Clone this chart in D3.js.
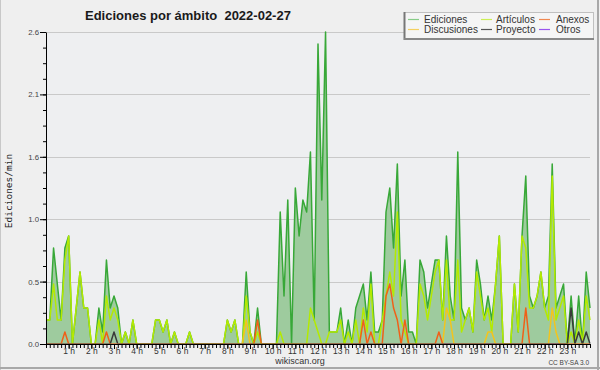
<!DOCTYPE html>
<html><head><meta charset="utf-8">
<script src="https://cdn.jsdelivr.net/npm/d3@7"></script>
<style>body{margin:0;background:#efefef}svg{display:block}</style>
</head><body>
<svg id="chart" width="600" height="370"></svg>
<script>
// 10-minute slots, 0:00 .. 24:00 (145 points), edits per minute
const ediciones = [0.2,0.2,0.8,0.5,0.2,0.8,0.9,0,0.3,0.6,0.3,0.3,0,0,0.3,0.1,0.7,0.3,0.4,0.3,0,0.1,0,0.2,0,0,0,0,0,0.2,0.2,0.1,0.2,0,0.1,0,0,0,0.1,0,0,0,0,0,0,0,0,0,0.2,0.1,0.2,0,0,0.6,0.1,0,0.3,0,0,0,0,0,1.1,0.4,1.2,0,1.3,0.9,1.2,1.1,1.6,0.2,2.5,1.2,2.6,0.1,0.1,0.1,0.3,0,0.2,0,0.3,0.4,0.5,0.2,0.6,0.1,0.1,0.2,1.1,1.3,0.8,1.5,0.4,0.7,0.1,0.1,0,0.7,0.6,0.3,0.5,0.7,0.7,0.2,0.9,0.4,0.2,1.6,0.3,0.2,0.3,0.1,0.7,0.5,0.2,0.4,0.2,0.5,0.9,0,0,0,0.5,0.1,0.9,1.4,0.4,0.3,0.4,0.6,0.3,0.4,1.5,0.3,0.4,0.5,0,0.4,0,0.4,0,0.6,0.3];
const articulos = [0.2,0.2,0.5,0.2,0.2,0.7,0.9,0,0.3,0.6,0.3,0.3,0,0,0.2,0,0.4,0.2,0.3,0.2,0,0.1,0,0.2,0,0,0,0,0,0.2,0.2,0.1,0.2,0,0.1,0,0,0,0.1,0,0,0,0,0,0,0,0,0,0.2,0.1,0.2,0,0,0.4,0.1,0,0.1,0,0,0,0,0,0.1,0,0,0,0,0,0,0,0.3,0.2,0.1,0,0,0.1,0.1,0.1,0.2,0,0.1,0,0.2,0,0.3,0.1,0.5,0,0,0.2,0.4,0.6,0.4,1.1,0.2,0.1,0,0,0,0.5,0.4,0.2,0.4,0.6,0.7,0.2,0.7,0.2,0.2,0.7,0.1,0.2,0.3,0.1,0.6,0.4,0.2,0.3,0.1,0.5,0.9,0,0,0,0.5,0.1,0.9,0.8,0.3,0.3,0.4,0.6,0.3,0.2,1.4,0.2,0.3,0.4,0,0.1,0,0.2,0,0.4,0.2];
const anexos = [0,0,0,0,0,0.1,0,0,0,0,0,0,0,0,0,0,0.1,0,0,0,0,0,0,0,0,0,0,0,0,0,0,0,0,0,0,0,0,0,0,0,0,0,0,0,0,0,0,0,0,0,0,0,0,0,0,0,0.2,0,0,0,0,0,0,0,0,0,0,0,0,0,0,0,0,0,0,0,0,0,0,0,0,0,0,0,0.2,0,0.1,0,0,0,0.4,0.5,0.3,0.2,0,0.2,0,0,0,0,0,0,0,0,0.1,0,0,0,0,0,0,0,0,0,0,0,0,0,0,0,0,0,0,0,0,0,0,0.3,0,0,0,0,0,0,0,0,0,0,0,0,0,0,0,0,0];
const discusiones = [0,0,0,0,0,0,0,0,0,0,0,0,0,0,0,0,0,0,0,0,0,0,0,0,0,0,0,0,0,0,0,0,0,0,0,0,0,0,0,0,0,0,0,0,0,0,0,0,0,0,0,0,0,0.2,0,0,0,0,0,0,0,0,0,0,0,0,0,0,0,0,0,0,0,0,0,0,0,0,0,0,0,0,0,0,0,0,0,0,0,0,0,0,0,0,0,0,0,0,0,0,0,0,0,0,0,0,0.3,0.2,0,0,0,0,0,0,0,0,0,0.1,0.1,0,0,0,0,0,0,0,0,0,0,0,0,0,0,0,0.3,0.1,0,0,0,0,0,0,0,0,0];
const proyecto = [0,0,0,0,0,0,0,0,0,0,0,0,0,0,0,0,0,0,0.1,0,0,0,0,0,0,0,0,0,0,0,0,0,0,0,0,0,0,0,0,0,0,0,0,0,0,0,0,0,0,0,0,0,0,0,0,0,0,0,0,0,0,0,0,0,0,0,0,0,0,0,0,0,0,0,0,0,0,0,0,0,0,0,0,0,0,0,0,0,0,0,0,0,0,0,0,0,0,0,0,0,0,0,0,0,0,0,0,0,0,0,0,0,0,0,0,0,0,0,0,0,0,0,0,0,0,0,0,0,0,0,0,0,0,0,0,0,0,0,0,0.3,0,0.1,0,0.1,0];
const otros = ediciones.map(() => 0);
const hourLabels = ["1 h","2 h","3 h","4 h","5 h","6 h","7 h","8 h","9 h","10 h","11 h","12 h","13 h","14 h","15 h","16 h","17 h","18 h","19 h","20 h","21 h","22 h","23 h"];
const seriesNames = ["Ediciones","Artículos","Anexos","Discusiones","Proyecto","Otros"];
const yMax = 2.6;

const FONT = "'Liberation Sans', Arial, sans-serif";
const svg = d3.select("#chart");
const X0 = 46, X1 = 590, Y0 = 32, Y1 = 344;

// backgrounds & frame
svg.append("rect").attr("x",0).attr("y",0).attr("width",600).attr("height",370).attr("fill","#efefef");
svg.append("rect").attr("x",X0).attr("y",Y0).attr("width",X1-X0).attr("height",Y1-Y0).attr("fill","#eeeff1");
svg.append("line").attr("x1",0.5).attr("x2",0.5).attr("y1",0).attr("y2",370).attr("stroke","#c8c8c8");
svg.append("line").attr("x1",598).attr("x2",598).attr("y1",0).attr("y2",370).attr("stroke","#a8a8a8").attr("stroke-width",2);
svg.append("line").attr("x1",0).attr("x2",600).attr("y1",368).attr("y2",368).attr("stroke","#a8a8a8").attr("stroke-width",2);

const x = d3.scaleLinear().domain([0,144]).range([X0,X1]);
const y = d3.scaleLinear().domain([0,yMax]).range([Y1,Y0]);

const majorY = d3.range(0,5.5).map(i => i*yMax/5);
const minorY = d3.range(0,20.5).map(i => i*yMax/20);

// grid
svg.append("g").selectAll("line").data(majorY.slice(1)).join("line")
  .attr("x1",X0).attr("x2",X1).attr("y1",d=>Math.round(y(d))+0.5).attr("y2",d=>Math.round(y(d))+0.5)
  .attr("stroke","#c9c9c9").attr("stroke-width",1);

const clip = svg.append("clipPath").attr("id","clipPlot");
clip.append("rect").attr("x",X0).attr("y",0).attr("width",X1-X0+2).attr("height",Y1-0.6);

const idx = d3.range(ediciones.length);
const area = d3.area().x(i=>x(i)).y0(y(0)).y1(i=>y(ediciones[i]));
svg.append("path").datum(idx).attr("d",area).attr("fill","#9ecb9e");

const colors = {
  "Ediciones":"#38a838","Artículos":"#b4ea00","Anexos":"#f06018",
  "Discusiones":"#f4c41c","Proyecto":"#3a3a3a","Otros":"#8a3ee8"
};
const legendColors = {
  "Ediciones":"#88cc88","Artículos":"#ccee55","Anexos":"#f08850",
  "Discusiones":"#f4d060","Proyecto":"#555555","Otros":"#9955ee"
};
const data = {"Ediciones":ediciones,"Artículos":articulos,"Anexos":anexos,"Discusiones":discusiones,"Proyecto":proyecto,"Otros":otros};
const gl = svg.append("g").attr("clip-path","url(#clipPlot)");
["Otros","Ediciones","Artículos","Discusiones","Anexos","Proyecto"].forEach(name => {
  const vals = data[name];
  const line = d3.line().x(i=>x(i)).y(i=>y(vals[i]));
  gl.append("path").datum(idx).attr("d",line).attr("fill","none")
    .attr("stroke",colors[name]).attr("stroke-width",1.5).attr("stroke-linejoin","round");
});

// Y axis
const gy = svg.append("g").attr("transform",`translate(${X0},0)`);
gy.call(d3.axisLeft(y).tickValues(minorY).tickSize(3).tickSizeOuter(0).tickFormat(""));
gy.call(g=>g.select(".domain").remove());
const gy2 = svg.append("g").attr("transform",`translate(${X0},0)`)
  .call(d3.axisLeft(y).tickValues(majorY).tickSize(6).tickSizeOuter(0).tickPadding(1).tickFormat(d3.format(".1f")));
gy2.selectAll("text").attr("font-family",FONT).attr("font-size",7.8).attr("fill","#444");
gy2.select(".domain").attr("stroke","#000");

// X axis
const gx = svg.append("g").attr("transform",`translate(0,${Y1})`)
  .call(d3.axisBottom(x).tickValues(d3.range(0,145)).tickSize(4).tickSizeOuter(0).tickFormat(""));
gx.select(".domain").remove();
const hours = d3.range(1,24).map(h=>h*6);
const gx2 = svg.append("g").attr("transform",`translate(0,${Y1})`)
  .call(d3.axisBottom(x).tickValues(hours).tickSize(5).tickSizeOuter(0).tickPadding(-1.5)
        .tickFormat((d,i)=>hourLabels[i]));
gx2.selectAll("text").attr("font-family",FONT).attr("font-size",8.5).attr("fill","#333");
gx2.select(".domain").attr("stroke","#000");

// titles
svg.append("text").attr("x",85).attr("y",20).attr("font-family",FONT).attr("font-weight","bold")
  .attr("font-size",13).attr("fill","#1a1a1a").style("white-space","pre")
  .text("Ediciones por ámbito  2022-02-27");
svg.append("text").attr("transform","translate(12,191) rotate(-90)").attr("text-anchor","middle")
  .attr("font-family","'DejaVu Sans Mono', monospace").attr("font-size",9.5).attr("fill","#222").text("Ediciones/min");
svg.append("text").attr("x",300).attr("y",364).attr("text-anchor","middle").attr("font-family",FONT)
  .attr("font-size",9).attr("fill","#333").text("wikiscan.org");
svg.append("text").attr("x",589).attr("y",365).attr("text-anchor","end").attr("font-family",FONT)
  .attr("font-size",6.5).attr("fill","#444").text("CC BY-SA 3.0");

// legend
const lg = svg.append("g");
lg.append("rect").attr("x",404.5).attr("y",12.5).attr("width",189).attr("height",26).attr("fill","#f5f5f5").attr("stroke","#c0c0c0");
lg.append("line").attr("x1",404.5).attr("x2",404.5).attr("y1",12).attr("y2",40).attr("stroke","#777").attr("stroke-width",2);
lg.append("line").attr("x1",404).attr("x2",594).attr("y1",39).attr("y2",39).attr("stroke","#888").attr("stroke-width",2);
const colX = [408,481,539], txtX = [424,496,556], rowY = [19.5,29.5];
seriesNames.forEach((name,i) => {
  const c = i%3, r = Math.floor(i/3);
  lg.append("line").attr("x1",colX[c]).attr("x2",colX[c]+11).attr("y1",rowY[r]).attr("y2",rowY[r])
    .attr("stroke",legendColors[name]).attr("stroke-width",1.2);
  lg.append("text").attr("x",txtX[c]).attr("y",rowY[r]+3.5).attr("font-family",FONT).attr("font-size",10)
    .attr("fill","#333").text(name);
});
</script>
</body></html>
